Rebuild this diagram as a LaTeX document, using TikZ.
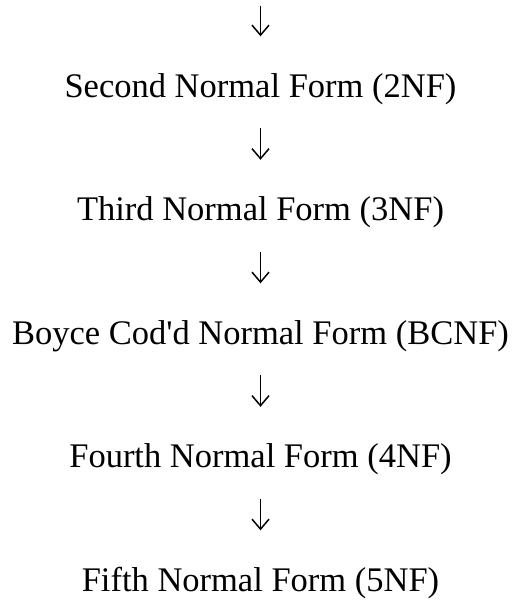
\documentclass[tikz,border=0pt]{standalone}
\usepackage{fontspec}
\setmainfont{Liberation Serif}[Ligatures=TeXOff]
\usepackage{tikz}
\usetikzlibrary{arrows.meta, positioning}
\definecolor{mydark}{RGB}{0,0,0}
\tikzset{
  formnode/.style={inner sep=0pt, anchor=base, text height=23.5pt, text depth=7.4pt,
    font=\fontsize{34.5}{40}\selectfont, color=mydark},
  arrow/.style={-{Straight Barb[length=10pt, width=17pt]}, line width=1.5pt,
    color=mydark, shorten <=23.6pt, shorten >=37pt}
}
\begin{document}
\begin{tikzpicture}[x=1pt, y=-1pt]
  \useasboundingbox (0,0) rectangle (514,602);
  % normal forms
  \coordinate (start) at (260.5,-17.6);
  \node[formnode] (nf2) at (260.5,97) {Second Normal Form (2NF)};
  \node[formnode] (nf3) at (260.5,220.5) {Third Normal Form (3NF)};
  \node[formnode] (bcnf) at (260.5,344) {Boyce Cod'd Normal Form (BCNF)};
  \node[formnode] (nf4) at (260.5,467.5) {Fourth Normal Form (4NF)};
  \node[formnode] (nf5) at (260.5,591) {Fifth Normal Form (5NF)};

  % arrows
  \draw[arrow] (start) -- (nf2);
  \draw[arrow] (nf2) -- (nf3);
  \draw[arrow] (nf3) -- (bcnf);
  \draw[arrow] (bcnf) -- (nf4);
  \draw[arrow] (nf4) -- (nf5);
\end{tikzpicture}
\end{document}
